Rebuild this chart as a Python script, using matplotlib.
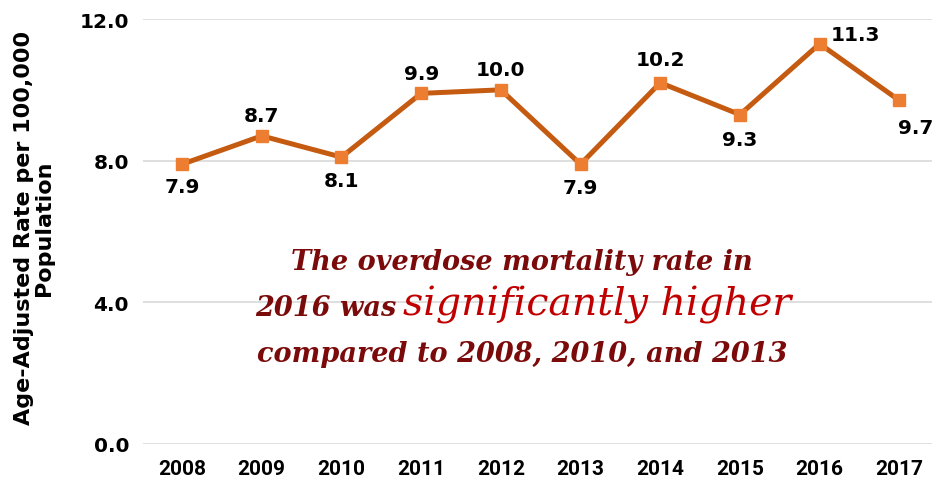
import numpy as np
import matplotlib.pyplot as plt

# overdose mortality, age-adjusted rate per 100,000
years = ["2008", "2009", "2010", "2011", "2012", "2013", "2014", "2015", "2016", "2017"]
rates = [7.9, 8.7, 8.1, 9.9, 10.0, 7.9, 10.2, 9.3, 11.3, 9.7]
yticks = [0.0, 4.0, 8.0, 12.0]

# where each value label sits relative to its point (pixels)
label_offsets = [(0, -22), (0, 20), (0, -23), (0, 20), (0, 20),
                 (0, -23), (0, 23), (0, -25), (36, 9), (16, -27)]

fig = plt.figure(figsize=(9.32, 4.81), dpi=100)
ax = fig.add_axes([143 / 932, 1 - 445 / 481, 1 - 143 / 932, 425 / 481])

x = np.arange(len(years))
ax.plot(x, rates, color="#C55A11", lw=3.6, marker="s", ms=8.5,
        mfc="#ED7D31", mec="#ED7D31", zorder=3)

for xi, v, off in zip(x, rates, label_offsets):
    ax.annotate(f"{v:.1f}", (xi, v), xytext=off, textcoords="offset pixels",
                ha="center", va="center", fontsize=14.5, fontweight="bold",
                color="black", zorder=4)

ax.set_ylim(0, 12)
ax.set_xlim(-0.49, 9.41)
ax.set_yticks(yticks)
ax.set_yticklabels([f"{t:.1f}" for t in yticks], fontsize=14.5, fontweight="bold")
ax.set_xticks(x)
ax.set_xticklabels(years, fontsize=15, fontweight="bold",
                   family=["Roboto", "DejaVu Sans"])
ax.tick_params(length=0, pad=10)
ax.tick_params(axis="x", pad=11)
ax.grid(axis="y", color="#D9D9D9", lw=1.2)
ax.set_axisbelow(True)
for s in ax.spines.values():
    s.set_visible(False)

fig.text(34 / 932, 1 - 228 / 481, "Age-Adjusted Rate per 100,000\nPopulation",
         rotation=90, ha="center", va="center", fontsize=16, fontweight="bold",
         linespacing=1.0)

# call-out text in the middle of the chart
dark = "#7B0A0A"
red = "#C00000"
serif = ["DejaVu Serif"]
fig.text(522 / 932, 1 - 262 / 481, "The overdose mortality rate in",
         ha="center", va="center", fontsize=19.5, fontweight="bold",
         style="italic", color=dark, family=serif)
fig.text(396 / 932, 1 - 316 / 481, "2016 was",
         ha="right", va="baseline", fontsize=19.5, fontweight="bold",
         style="italic", color=dark, family=serif)
fig.text(403 / 932, 1 - 316 / 481, "significantly higher",
         ha="left", va="baseline", fontsize=28.4, style="italic",
         color=red, family=serif)
fig.text(522 / 932, 1 - 354 / 481, "compared to 2008, 2010, and 2013",
         ha="center", va="center", fontsize=19.5, fontweight="bold",
         style="italic", color=dark, family=serif)

fig.savefig("out.png", dpi=100)
